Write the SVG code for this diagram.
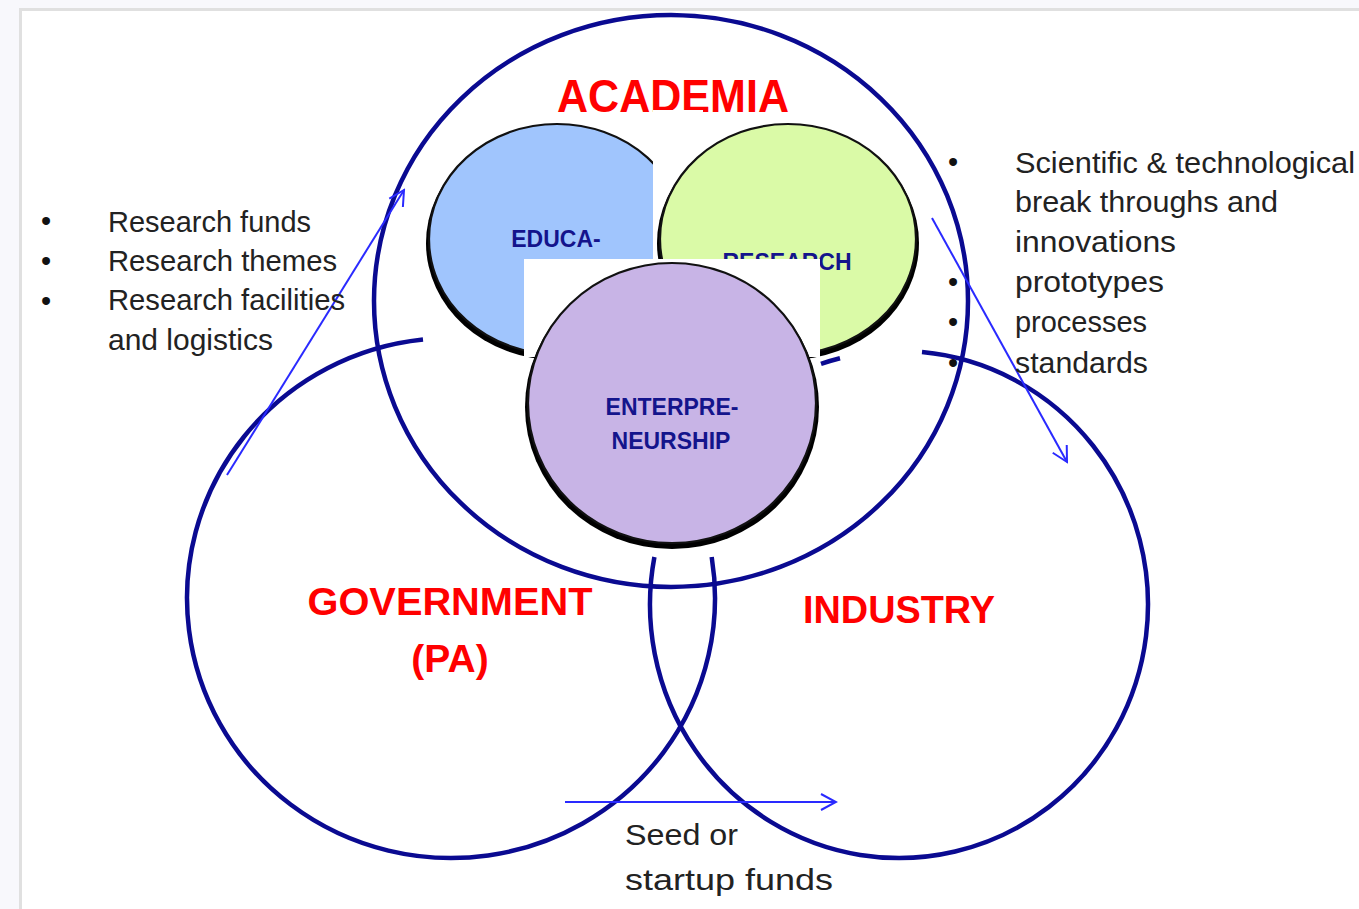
<svg xmlns="http://www.w3.org/2000/svg" width="1359" height="909" viewBox="0 0 1359 909">
  <defs>
    <style>
      .ring { fill: none; stroke: #0a0a91; stroke-width: 4.5; }
      .title { font-family: "Liberation Sans", Arial, sans-serif; font-weight: bold; fill: #ff0000; text-anchor: middle; }
      .inner { font-family: "Liberation Sans", Arial, sans-serif; font-weight: bold; fill: #14148c; text-anchor: middle; font-size: 23px; }
      .body { font-family: "Liberation Sans", Arial, sans-serif; fill: #222222; font-size: 29px; }
      .bul { font-family: "Liberation Sans", Arial, sans-serif; fill: #111111; font-size: 29px; text-anchor: middle; }
      .arrow { fill: none; stroke: #2a2aff; stroke-width: 2; }
      .shadow { fill: #000000; }
      .disc { stroke: #111111; stroke-width: 2.2; }
    </style>
    <marker id="vhead" markerUnits="userSpaceOnUse" viewBox="-17 -10 19 20" refX="0" refY="0" markerWidth="19" markerHeight="20" orient="auto">
      <path d="M -15 -8 L 0 0 L -15 8" fill="none" stroke="#2a2aff" stroke-width="2"/>
    </marker>
  </defs>

  <!-- page -->
  <rect x="0" y="0" width="1359" height="909" fill="#f8f8fc"/>
  <rect x="20.5" y="9.5" width="1345" height="910" fill="#ffffff" stroke="#e0e0e0" stroke-width="3"/>

  <!-- outer sectors -->
  <g id="academia">
    <ellipse class="ring" cx="671" cy="301" rx="297" ry="286"/>
    <text class="title" x="673" y="112" font-size="46" textLength="232" lengthAdjust="spacingAndGlyphs">ACADEMIA</text>
  </g>
  <g id="government">
    <path class="ring" d="M 423 339.5 A 264 260 0 1 0 711.7 557"/>
    <text class="title" x="450" y="615" font-size="39" textLength="285" lengthAdjust="spacingAndGlyphs">GOVERNMENT</text>
    <text class="title" x="450" y="672" font-size="39">(PA)</text>
  </g>
  <g id="industry">
    <path class="ring" d="M 922 352.1 A 249 253.5 0 1 1 654.4 557"/>
    <path class="ring" d="M 821 363.8 A 249 253.5 0 0 1 840 358.2"/>
    <text class="title" x="899" y="623" font-size="39" textLength="192" lengthAdjust="spacingAndGlyphs">INDUSTRY</text>
  </g>

  <!-- inner circles -->
  <g id="education">
    <ellipse class="shadow" cx="557" cy="243" rx="131" ry="117"/>
    <ellipse class="disc" cx="557" cy="239" rx="128" ry="115" fill="#a0c5fd"/>
    <text class="inner" x="556" y="247">EDUCA-</text>
    <rect x="653" y="110" width="50" height="160" fill="#ffffff"/>
  </g>
  <g id="research">
    <ellipse class="shadow" cx="788" cy="243" rx="131" ry="117"/>
    <ellipse class="disc" cx="788" cy="239" rx="128" ry="115" fill="#dafaa7"/>
    <text class="inner" x="787" y="270" font-size="22.5">RESEARCH</text>
    <rect x="524" y="259" width="296" height="98" fill="#ffffff"/>
  </g>
  <g id="entrepreneurship">
    <ellipse class="shadow" cx="672" cy="407" rx="147" ry="142"/>
    <ellipse class="disc" cx="672" cy="403" rx="144" ry="140" fill="#c8b4e6"/>
    <text class="inner" x="672" y="415">ENTERPRE-</text>
    <text class="inner" x="671" y="449">NEURSHIP</text>
  </g>

  <!-- connectors -->
  <g id="connectors">
    <line class="arrow" x1="227" y1="475" x2="404" y2="190" marker-end="url(#vhead)"/>
    <line class="arrow" x1="932" y1="218" x2="1067" y2="462" marker-end="url(#vhead)"/>
    <line class="arrow" x1="565" y1="802" x2="836" y2="802" marker-end="url(#vhead)"/>
  </g>

  <!-- left list -->
  <g id="inputs-list">
    <text class="bul" x="46" y="231">•</text>
    <text class="bul" x="46" y="271">•</text>
    <text class="bul" x="46" y="311">•</text>
    <text class="body" x="108" y="232" textLength="203" lengthAdjust="spacingAndGlyphs">Research funds</text>
    <text class="body" x="108" y="271" textLength="229" lengthAdjust="spacingAndGlyphs">Research themes</text>
    <text class="body" x="108" y="310" textLength="237" lengthAdjust="spacingAndGlyphs">Research facilities</text>
    <text class="body" x="108" y="350" textLength="165" lengthAdjust="spacingAndGlyphs">and logistics</text>
  </g>

  <!-- right list -->
  <g id="outputs-list">
    <text class="bul" x="953" y="172">•</text>
    <text class="bul" x="953" y="292">•</text>
    <text class="bul" x="953" y="332">•</text>
    <text class="bul" x="953" y="373">•</text>
    <text class="body" x="1015" y="173" textLength="340" lengthAdjust="spacingAndGlyphs">Scientific &amp; technological</text>
    <text class="body" x="1015" y="212" textLength="263" lengthAdjust="spacingAndGlyphs">break throughs and</text>
    <text class="body" x="1015" y="252" textLength="161" lengthAdjust="spacingAndGlyphs">innovations</text>
    <text class="body" x="1015" y="292" textLength="149" lengthAdjust="spacingAndGlyphs">prototypes</text>
    <text class="body" x="1015" y="332" textLength="132" lengthAdjust="spacingAndGlyphs">processes</text>
    <text class="body" x="1015" y="373" textLength="133" lengthAdjust="spacingAndGlyphs">standards</text>
  </g>

  <!-- bottom label -->
  <g id="seed-label">
    <text class="body" x="625" y="845" textLength="113" lengthAdjust="spacingAndGlyphs">Seed or</text>
    <text class="body" x="625" y="890" textLength="208" lengthAdjust="spacingAndGlyphs">startup funds</text>
  </g>
</svg>
